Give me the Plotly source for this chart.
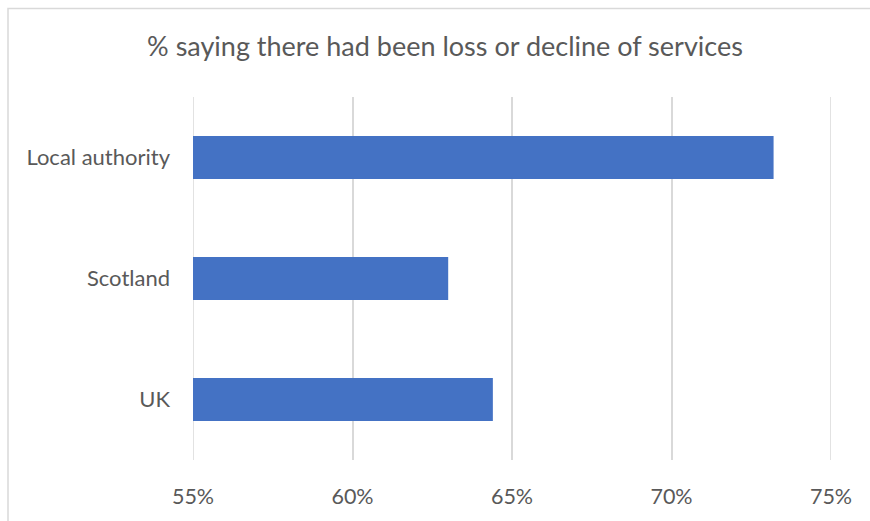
import plotly.graph_objects as go

# Survey results: share saying there had been loss or decline of services
categories = ["Local authority", "Scotland", "UK"]
values = [73.2, 63.0, 64.4]
tick_values = [55, 60, 65, 70, 75]
tick_labels = ["55%", "60%", "65%", "70%", "75%"]

W, H = 870, 521
ML, MR, MT, MB = 193, 39, 97, 59
TEXT = "#595959"
GRID = "#D9D9D9"
FONT = "Lato"
X_RANGE = [55, 75]

fig = go.Figure(
    go.Bar(
        y=categories,
        x=values,
        orientation="h",
        width=0.355,
        marker=dict(color="#4472C4", line=dict(width=0)),
        hoverinfo="x+y",
    )
)

pw = W - ML - MR
ph = H - MT - MB

# gridlines at the two range ends, which the axis itself leaves out
edge_lines = [
    dict(
        type="line",
        xref="x",
        yref="paper",
        x0=v,
        x1=v,
        y0=0,
        y1=1,
        line=dict(color=GRID, width=1.5),
        layer="below",
    )
    for v in X_RANGE
]

fig.update_layout(
    width=W,
    height=H,
    margin=dict(l=ML, r=MR, t=MT, b=MB, pad=0),
    paper_bgcolor="white",
    plot_bgcolor="white",
    showlegend=False,
    title=dict(
        text="% saying there had been loss or decline of services",
        font=dict(family=FONT, size=27, color=TEXT),
        x=445 / W,
        xanchor="center",
        xref="container",
        y=1 - 47 / H,
        yanchor="middle",
        yref="container",
    ),
    xaxis=dict(
        range=X_RANGE,
        tickvals=tick_values,
        ticktext=tick_labels,
        showgrid=True,
        gridcolor=GRID,
        gridwidth=1.5,
        zeroline=False,
        showline=False,
        ticks="",
        ticklabelstandoff=21,
        tickfont=dict(family=FONT, size=21.5, color=TEXT),
        fixedrange=True,
    ),
    yaxis=dict(
        autorange="reversed",
        showgrid=False,
        zeroline=False,
        showline=False,
        ticks="",
        ticklabelstandoff=22,
        tickfont=dict(family=FONT, size=22, color=TEXT),
        fixedrange=True,
    ),
    shapes=[
        # light chart-area frame
        dict(
            type="rect",
            xref="paper",
            yref="paper",
            x0=(8 - ML) / pw,
            x1=(W + 20 - ML) / pw,
            y0=(H - MB - (H + 20)) / ph,
            y1=(H - MB - 8) / ph,
            line=dict(color=GRID, width=1.5),
            fillcolor="rgba(0,0,0,0)",
            layer="below",
        )
    ]
    + edge_lines,
)

fig.write_html("out.html")
